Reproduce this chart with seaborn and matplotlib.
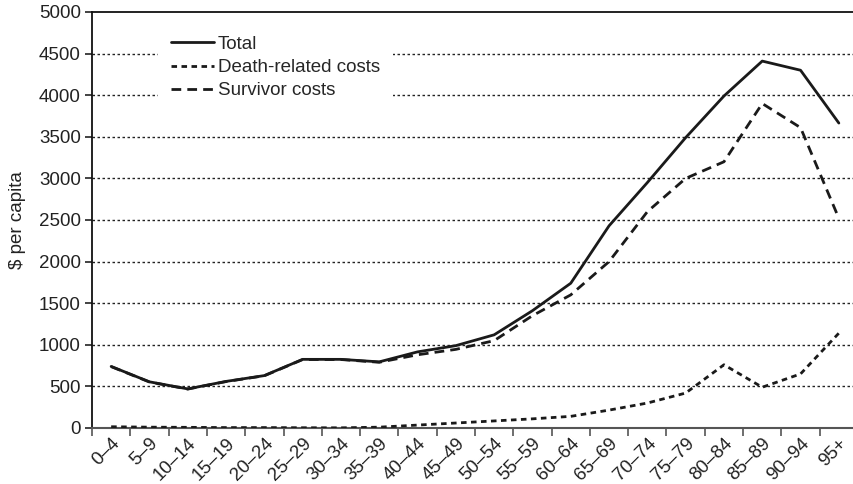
import matplotlib
matplotlib.use("Agg")
import matplotlib.pyplot as plt
import seaborn as sns
import pandas as pd
import numpy as np

age_groups = ["0–4", "5–9", "10–14", "15–19", "20–24", "25–29", "30–34", "35–39",
              "40–44", "45–49", "50–54", "55–59", "60–64", "65–69", "70–74", "75–79",
              "80–84", "85–89", "90–94", "95+"]
total = [740, 555, 470, 560, 630, 825, 825, 795, 915, 990, 1120, 1410, 1740, 2430,
         2950, 3490, 3990, 4410, 4300, 3665]
death_related = [15, 10, 8, 5, 5, 3, 2, 10, 35, 60, 85, 110, 140, 215, 300, 420,
                 760, 490, 650, 1140]
survivor = [738, 553, 468, 558, 628, 823, 823, 790, 880, 945, 1050, 1350, 1600, 2000,
            2600, 3000, 3200, 3900, 3610, 2520]
y_ticks = [0, 500, 1000, 1500, 2000, 2500, 3000, 3500, 4000, 4500, 5000]

sns.set_theme(style="white")
plt.rcParams['font.family'] = ['Liberation Sans', 'DejaVu Sans']

x = np.arange(len(age_groups))
df = pd.DataFrame({"x": x, "Total": total, "Death-related costs": death_related,
                   "Survivor costs": survivor})

fig = plt.figure(figsize=(8.54, 4.84), dpi=100)
ax = fig.add_axes([92/854, 1-428/484, (858-92)/854, 416/484])

col = "#1a1a1a"
fs = 13.5
sns.lineplot(data=df, x="x", y="Survivor costs", ax=ax, color=col, lw=2.0,
             label="Survivor costs", zorder=3)
sns.lineplot(data=df, x="x", y="Death-related costs", ax=ax, color=col, lw=2.0,
             label="Death-related costs", zorder=3)
sns.lineplot(data=df, x="x", y="Total", ax=ax, color=col, lw=2.0,
             label="Total", zorder=4)
lines = ax.get_lines()
lines[0].set_dashes((3.5, 2.2))
lines[1].set_dashes((2.0, 1.6))

ax.set_xlim(-0.5, len(age_groups) - 0.5)
ax.set_ylim(0, 5000)
ax.set_yticks(y_ticks)
ax.set_yticklabels([str(v) for v in y_ticks], fontsize=fs, color="#222222")
for v in y_ticks[1:-1]:
    ax.axhline(v, color="#222222", lw=1.0, ls=(0, (1.8, 1.8)), zorder=1)

ax.set_xticks(np.arange(-0.5, len(age_groups), 1.0))
ax.set_xticklabels([])
ax.set_xticks(x, minor=True)
ax.set_xticklabels(age_groups, minor=True, rotation=45, ha="right",
                   rotation_mode="anchor", fontsize=fs, color="#222222")
ax.tick_params(axis="x", which="major", length=6, width=1.2, color="#555555", direction="out")
ax.tick_params(axis="x", which="minor", length=0, pad=5)
ax.tick_params(axis="y", which="major", length=5, width=1.2, color="#222222", direction="out", pad=3)
ax.tick_params(bottom=True, left=True)

ax.set_xlabel("")
ax.set_ylabel("$ per capita", fontsize=fs, color="#222222", labelpad=9)

for s in ["left", "top"]:
    ax.spines[s].set_color("#111111")
    ax.spines[s].set_linewidth(1.3)
ax.spines["bottom"].set_color("#555555")
ax.spines["bottom"].set_linewidth(1.5)
ax.spines["right"].set_visible(False)

h, l = ax.get_legend_handles_labels()
order = [l.index("Total"), l.index("Death-related costs"), l.index("Survivor costs")]
leg = ax.legend([h[i] for i in order], [l[i] for i in order], loc="upper left",
                bbox_to_anchor=(0.074, 0.997), frameon=True, fontsize=fs,
                handlelength=2.3, handletextpad=0.2, labelspacing=0.33,
                borderpad=0.7, fancybox=False)
leg.get_frame().set_facecolor("white")
leg.get_frame().set_edgecolor("none")
leg.get_frame().set_alpha(1)
leg.set_zorder(5)

fig.savefig("out.png", dpi=100)
